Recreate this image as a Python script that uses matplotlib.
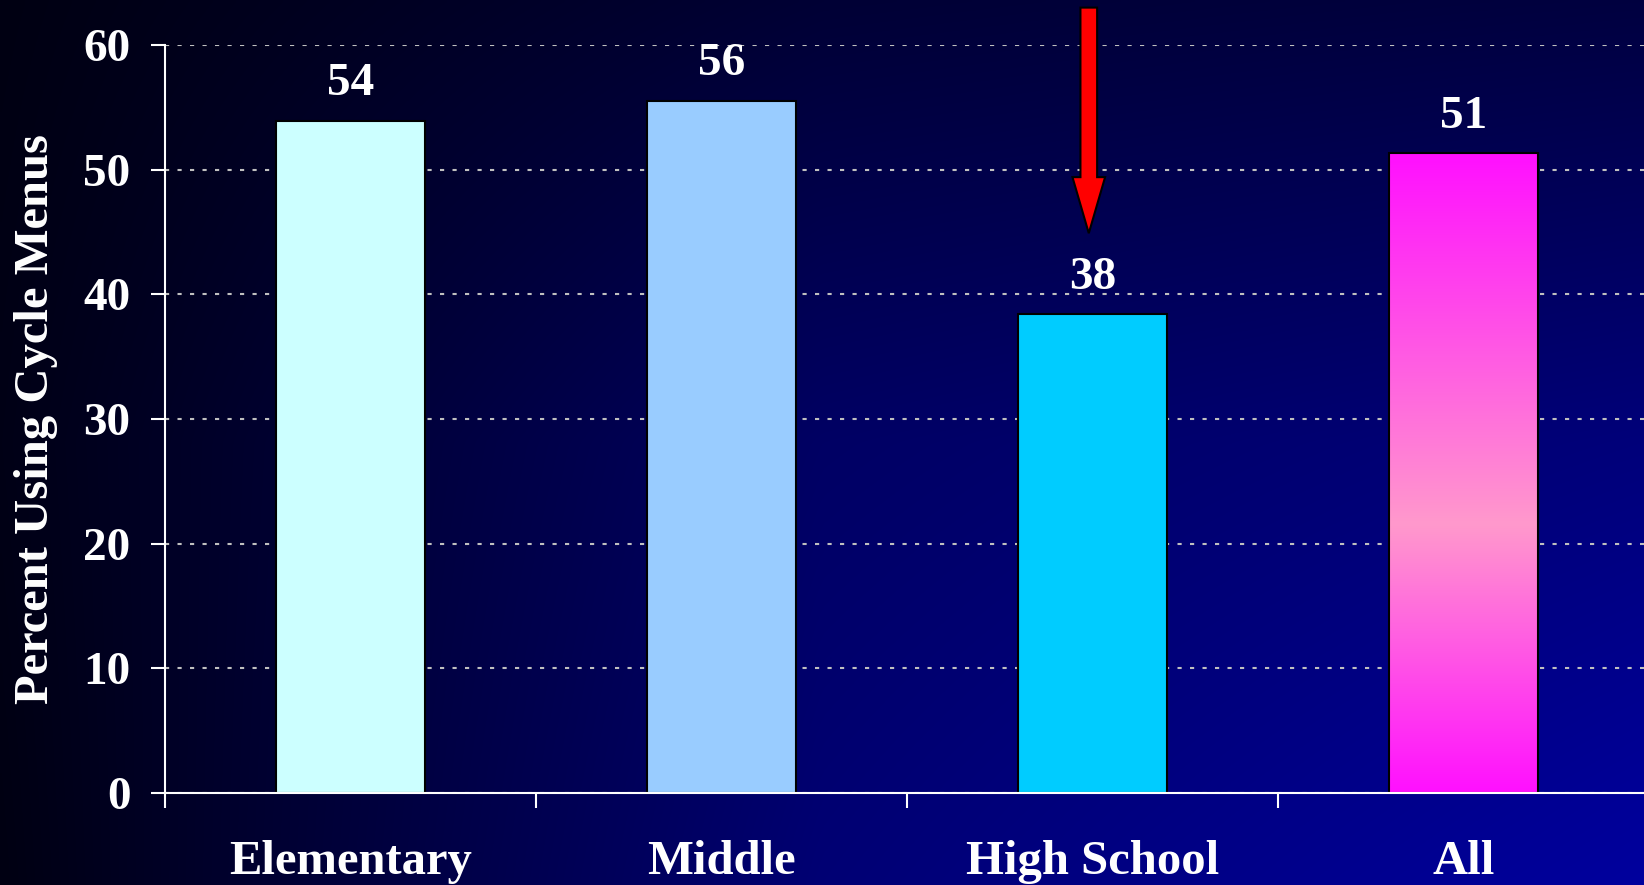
import numpy as np
import matplotlib
matplotlib.use("Agg")
import matplotlib.pyplot as plt
from matplotlib.patches import FancyArrow
from matplotlib.colors import LinearSegmentedColormap

# data
categories = ["Elementary", "Middle", "High School", "All"]
values = [53.9, 55.5, 38.4, 51.3]
value_labels = ["54", "56", "38", "51"]
bar_colors = ["#CCFFFF", "#99CCFF", "#00CCFF", None]  # last bar is a gradient
y_ticks = [0, 10, 20, 30, 40, 50, 60]
ylabel = "Percent Using Cycle Menus"
highlight = "High School"

plt.rcParams['font.family'] = ['Liberation Serif', 'DejaVu Serif']
plt.rcParams['font.weight'] = 'bold'

W, H = 1644, 885
fig = plt.figure(figsize=(W / 100, H / 100), dpi=100)

# slide background: dark navy at the top left, brighter blue to the bottom right
bg = fig.add_axes([0, 0, 1, 1])
bg.set_axis_off()
u = np.linspace(0, 1, 400)
v = np.linspace(0, 1, 220)
grid = np.array([[0x12, 0x35, 0x40],
                 [0x16, 0x64, 0x7A],
                 [0x12, 0x74, 0x9E]], dtype=float)
rows = np.array([np.interp(u, [0, 0.5, 1], r) for r in grid])
blue = np.array([np.interp(v, [0, 0.5, 1], rows[:, k]) for k in range(len(u))]).T
img = np.zeros((len(v), len(u), 3))
img[..., 2] = blue / 255.0
bg.imshow(img, extent=[0, 1, 0, 1], aspect='auto', origin='upper', interpolation='bilinear')
bg.set_xlim(0, 1)
bg.set_ylim(0, 1)

ax = fig.add_axes([165 / W, 1 - 793 / H, 1484 / W, 748 / H])
ax.patch.set_alpha(0)

x = np.arange(len(categories))
bars = ax.bar(x, values, width=0.4, color=[c if c else "none" for c in bar_colors],
              edgecolor="black", linewidth=1.5, zorder=3)

# gradient fill for the "All" bar (magenta - pink - magenta)
last = bars[-1]
cmap = LinearSegmentedColormap.from_list(
    "allbar", [(0, "#FF10FF"), (0.42, "#FF99CC"), (1, "#FF10FF")])
grad = np.linspace(0, 1, 256).reshape(-1, 1)
bx, bw = last.get_x(), last.get_width()
im = ax.imshow(grad, cmap=cmap, extent=[bx, bx + bw, 0, last.get_height()],
               aspect='auto', origin='lower', zorder=2.5)
im.set_clip_path(last)

ax.set_xlim(-0.5, 3.5)
ax.set_ylim(0, 60)
ax.set_yticks(y_ticks)
ax.set_xticks(np.arange(len(categories) + 1) - 0.5, minor=False)
ax.set_xticklabels([])
ax.set_xticks(x, minor=True)
ax.set_xticklabels(categories, minor=True)

ax.grid(axis='y', color="#C0C0C0", linestyle=(0, (2, 4)), linewidth=1.5, zorder=1)
ax.set_axisbelow(True)

for s in ["top", "right"]:
    ax.spines[s].set_visible(False)
for s in ["left", "bottom"]:
    ax.spines[s].set_color("white")
    ax.spines[s].set_linewidth(1.5)
    ax.spines[s].set_zorder(4)

ax.tick_params(axis='y', colors='white', labelsize=34, length=10, width=1.5, pad=15)
ax.tick_params(axis='x', which='major', colors='white', length=11, width=1.5)
ax.tick_params(axis='x', which='minor', colors='white', labelsize=35, length=0, pad=34)

for b, lab in zip(bars, value_labels):
    ax.annotate(lab, (b.get_x() + b.get_width() / 2, b.get_height()), xytext=(0, 18.5),
                textcoords='offset points', ha='center', va='baseline',
                color='white', fontsize=34, fontweight='bold')

fig.text(36 / W, 1 - 419 / H, ylabel, rotation=90, ha='center', va='center',
         color='white', fontsize=35, fontweight='bold')

# red arrow pointing down at the high school bar
hi = categories.index(highlight)
arr = FancyArrow(hi - 0.01, 63, 0, -18.1, width=0.045, head_width=0.088, head_length=4.5,
                 length_includes_head=True, facecolor='red', edgecolor='black',
                 linewidth=1.5, clip_on=False, zorder=5)
ax.add_patch(arr)

fig.savefig("out.png", dpi=100)
